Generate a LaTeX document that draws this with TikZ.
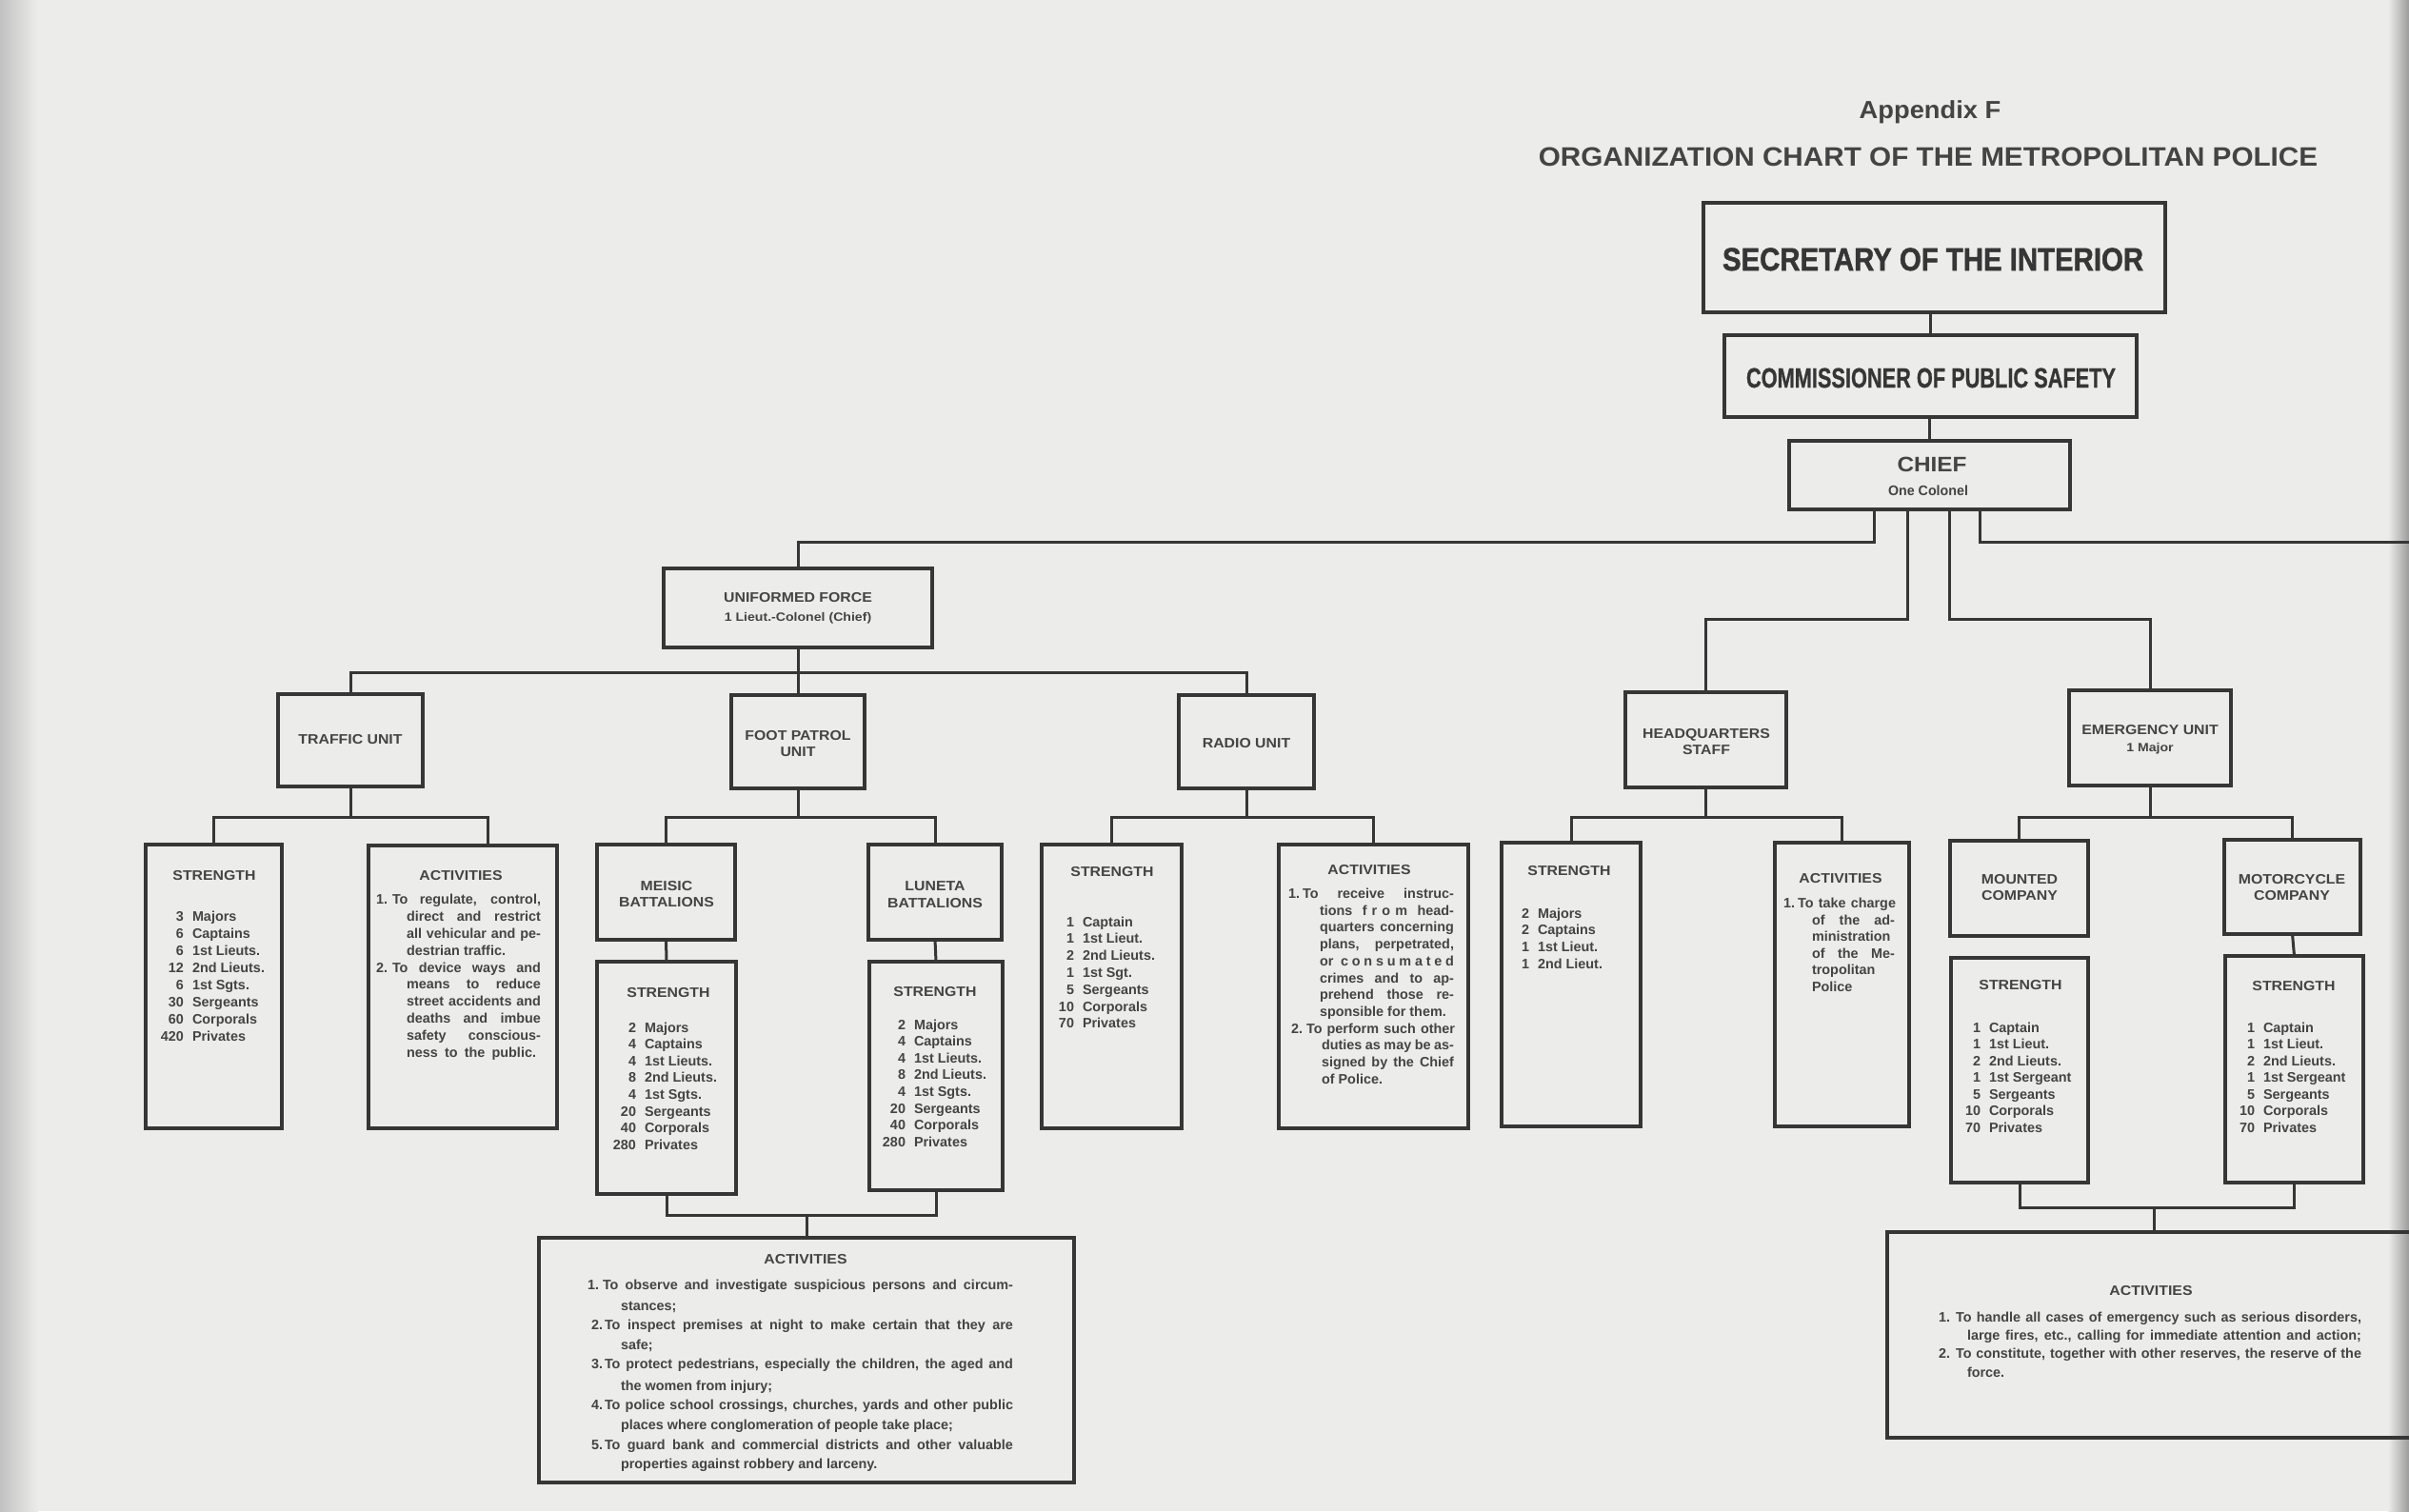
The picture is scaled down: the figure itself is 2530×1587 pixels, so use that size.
\documentclass[tikz,border=0pt]{standalone}
\usepackage{fontspec}
\setmainfont{Liberation Sans}
\usepackage{graphicx}
\definecolor{paper}{HTML}{ECECEA}
\definecolor{inkc}{HTML}{363636}
\definecolor{txtc}{HTML}{444444}
\definecolor{edgec}{HTML}{C2C2C2}
\tikzset{
  bx/.style={draw=inkc, line width=1.7pt, inner sep=0pt, outer sep=0pt, rectangle},
  ln/.style={draw=inkc, line width=1.5pt},
  tx/.style={inner sep=0pt, outer sep=0pt, text=txtc, font=\fontsize{7.2}{8}\selectfont\bfseries},
  ts/.style={inner sep=0pt, outer sep=0pt, text=txtc, font=\fontsize{6.3}{7}\selectfont\bfseries}
}
\newcounter{tl}
\newcommand\Bx[5]{\node[bx, minimum width={(#4-#2)/2}, minimum height={(#5-#3)/2}] (#1) at ({(#2+#4)/2},{(#3+#5)/2}) {};}
\newcommand\Tl[3]{\stepcounter{tl}\node[tx,anchor=base west] (t\arabic{tl}) at (#1,#2) {#3};}
\newcommand\Tr[3]{\stepcounter{tl}\node[tx,anchor=base east] (t\arabic{tl}) at (#1,#2) {#3};}
\newcommand\Th[3]{\stepcounter{tl}\node[tx,anchor=base] (t\arabic{tl}) at (#1,#2) {\scalebox{1.1}[1]{#3}};}
\newcommand\Ts[3]{\stepcounter{tl}\node[ts,anchor=base] (t\arabic{tl}) at (#1,#2) {\scalebox{1.12}[1]{#3}};}
\newcommand\Tj[4]{\stepcounter{tl}\node[tx,anchor=base west] (t\arabic{tl}) at (#1,#3) {\makebox[\dimexpr(#2pt-#1pt)/2\relax][s]{#4}};}
\newcommand\Sl[4]{\foreach \nn/\ww [count=\ii from 0] in {#4}{\Tr{#1}{#2+\ii*#3}{\nn}\Tl{#1+9}{#2+\ii*#3}{\ww}}}
\begin{document}
\begin{tikzpicture}[x=0.5pt,y=-0.5pt]
\useasboundingbox (0,0) rectangle (2530,1587);
\clip (0,0) rectangle (2530,1587);
\fill[paper] (0,0) rectangle (2530,1587);
\shade[left color=edgec, right color=paper] (0,0) rectangle (40,1587);
\shade[left color=paper, right color=edgec!80!black] (2508,0) rectangle (2530,1587);

% ---------- boxes ----------
\Bx{sec}{1789}{213}{2274}{328}
\Bx{com}{1811}{352}{2244}{438}
\Bx{chief}{1879}{463}{2174}{535}
\Bx{uf}{697}{597}{979}{680}
\Bx{traffic}{292}{729}{444}{826}
\Bx{foot}{768}{730}{908}{828}
\Bx{radio}{1238}{730}{1380}{828}
\Bx{hq}{1707}{727}{1876}{827}
\Bx{em}{2173}{725}{2343}{825}
\Bx{tstr}{153}{887}{296}{1185}
\Bx{tact}{387}{888}{585}{1185}
\Bx{mei}{627}{887}{772}{987}
\Bx{lun}{912}{887}{1052}{987}
\Bx{meis}{627}{1010}{773}{1254}
\Bx{luns}{913}{1010}{1053}{1250}
\Bx{fact}{566}{1300}{1128}{1557}
\Bx{rstr}{1094}{887}{1241}{1185}
\Bx{ract}{1343}{887}{1542}{1185}
\Bx{hstr}{1577}{885}{1723}{1183}
\Bx{hact}{1864}{885}{2005}{1183}
\Bx{mnt}{2048}{883}{2193}{983}
\Bx{moto}{2336}{882}{2479}{981}
\Bx{mnts}{2049}{1006}{2193}{1242}
\Bx{motos}{2337}{1004}{2482}{1242}
\Bx{eact}{1982}{1294}{2560}{1510}

% ---------- connectors ----------
\draw[ln] (sec.south -| com.north) -- (com.north);
\draw[ln] (com.south -| chief.north) -- (chief.north);
\coordinate (j1) at (1968,569);
\coordinate (j2) at (2003,650);
\coordinate (j3) at (2047,650);
\coordinate (j4) at (2079,569);
\coordinate (edgeR) at (2545,569);
\draw[ln] (chief.south -| j1) -- (j1) -| (uf.north);
\draw[ln] (chief.south -| j2) -- (j2) -| (hq.north);
\draw[ln] (chief.south -| j3) -- (j3) -| (em.north);
\draw[ln] (chief.south -| j4) -- (j4) -- (edgeR);

\coordinate (ub) at (838,706);
\draw[ln] (uf.south) -- (foot.north);
\draw[ln] (traffic.north) |- (ub) -| (radio.north);

\coordinate (tb) at (368,858);
\draw[ln] (traffic.south) -- (tb);
\draw[ln] (tstr.north) |- (tb) -| ([xshift=13pt]tact.north);

\coordinate (fb) at (838,858);
\draw[ln] (foot.south) -- (fb);
\draw[ln] (mei.north) |- (fb) -| (lun.north);
\draw[ln] (mei.south) -- (meis.north);
\draw[ln] (lun.south) -- (luns.north);
\coordinate (fb2) at (847,1276);
\draw[ln] (meis.south) |- (fb2) -| (luns.south);
\draw[ln] (fb2) -- (fact.north);

\coordinate (rb) at (1309,858);
\draw[ln] (radio.south) -- (rb);
\draw[ln] (rstr.north) |- (rb) -| (ract.north);

\coordinate (hb) at (1791.5,858);
\draw[ln] (hq.south) -- (hb);
\draw[ln] (hstr.north) |- (hb) -| (hact.north);

\coordinate (eb) at (2258,858);
\draw[ln] (em.south) -- (eb);
\draw[ln] (mnt.north) |- (eb) -| (moto.north);
\draw[ln] (moto.south) -- (motos.north);
\coordinate (eb2) at (2262,1268);
\draw[ln] (mnts.south) |- (eb2) -| (motos.south);
\draw[ln] (eb2) -- (eb2 |- eact.north);

% ---------- titles ----------
\node[tx, anchor=base, font=\fontsize{13}{15}\selectfont\bfseries] (ttlA) at (2027,124) {\scalebox{1.05}[1]{Appendix F}};
\node[tx, anchor=base, font=\fontsize{14}{16}\selectfont\bfseries] (ttlB) at (2025,174) {\scalebox{1.06}[1]{ORGANIZATION CHART OF THE METROPOLITAN POLICE}};
\node[tx, anchor=base, text=inkc] (secT) at (2030,284) {\resizebox{221pt}{11.8pt}{\bfseries\addfontfeature{FakeBold=1.5}SECRETARY OF THE INTERIOR}};
\node[tx, anchor=base, text=inkc] (comT) at (2028,407) {\resizebox{194pt}{10.2pt}{\bfseries\addfontfeature{FakeBold=1}COMMISSIONER OF PUBLIC SAFETY}};
\node[tx, anchor=base] (chT) at (2029,495) {\resizebox{36.5pt}{7.7pt}{\bfseries CHIEF}};
\node[tx, anchor=base] (chS) at (2025,520) {\resizebox{42pt}{5.3pt}{\bfseries One Colonel}};

% ---------- unit headings ----------
\Th{838}{632}{UNIFORMED FORCE}
\Ts{838}{652}{1 Lieut.-Colonel (Chief)}
\Th{368}{781}{TRAFFIC UNIT}
\Th{838}{777}{FOOT PATROL}
\Th{838}{794}{UNIT}
\Th{1309}{785}{RADIO UNIT}
\Th{1792}{775}{HEADQUARTERS}
\Th{1792}{792}{STAFF}
\Th{2258}{771}{EMERGENCY UNIT}
\Ts{2258}{789}{1 Major}
\Th{700}{935}{MEISIC}
\Th{700}{952}{BATTALIONS}
\Th{982}{935}{LUNETA}
\Th{982}{953}{BATTALIONS}
\Th{2121}{928}{MOUNTED}
\Th{2121}{945}{COMPANY}
\Th{2407}{928}{MOTORCYCLE}
\Th{2407}{945}{COMPANY}

% ---------- strength ----------
\Th{225}{924}{STRENGTH}
\Th{702}{1047}{STRENGTH}
\Th{982}{1046}{STRENGTH}
\Th{1168}{920}{STRENGTH}
\Th{1648}{919}{STRENGTH}
\Th{2122}{1039}{STRENGTH}
\Th{2409}{1040}{STRENGTH}
\Sl{193}{967}{18}{3/Majors,6/Captains,6/1st Lieuts.,12/2nd Lieuts.,6/1st Sgts.,30/Sergeants,60/Corporals,420/Privates}
\Sl{668}{1084}{17.6}{2/Majors,4/Captains,4/1st Lieuts.,8/2nd Lieuts.,4/1st Sgts.,20/Sergeants,40/Corporals,280/Privates}
\Sl{951}{1081}{17.6}{2/Majors,4/Captains,4/1st Lieuts.,8/2nd Lieuts.,4/1st Sgts.,20/Sergeants,40/Corporals,280/Privates}
\Sl{1128}{973}{17.8}{1/Captain,1/1st Lieut.,2/2nd Lieuts.,1/1st Sgt.,5/Sergeants,10/Corporals,70/Privates}
\Sl{1606}{964}{17.7}{2/Majors,2/Captains,1/1st Lieut.,1/2nd Lieut.}
\Sl{2080}{1084}{17.5}{1/Captain,1/1st Lieut.,2/2nd Lieuts.,1/1st Sergeant,5/Sergeants,10/Corporals,70/Privates}
\Sl{2368}{1084}{17.5}{1/Captain,1/1st Lieut.,2/2nd Lieuts.,1/1st Sergeant,5/Sergeants,10/Corporals,70/Privates}

% ---------- activities ----------
\Th{484}{924}{ACTIVITIES}
\Th{1438}{918}{ACTIVITIES}
\Th{1933}{927}{ACTIVITIES}
\Th{846}{1327}{ACTIVITIES}
\Th{2259}{1360}{ACTIVITIES}

% traffic
\Tl{395}{949}{1.}\Tj{412}{568}{949}{To regulate, control,}
\Tj{427}{568}{967}{direct and restrict}
\Tj{427}{568}{985}{all vehicular and pe-}
\Tl{427}{1003}{destrian traffic.}
\Tl{395}{1021}{2.}\Tj{412}{568}{1021}{To device ways and}
\Tj{427}{568}{1038}{means to reduce}
\Tj{427}{568}{1056}{street accidents and}
\Tj{427}{568}{1074}{deaths and imbue}
\Tj{427}{568}{1092}{safety conscious-}
\Tj{427}{563}{1110}{ness to the public.}

% radio
\Tl{1353}{943}{1.}\Tj{1368}{1527}{943}{To receive instruc-}
\Tj{1386}{1527}{961}{tions\hfil\hfil f\hfil r\hfil o\hfil m\hfil\hfil head-}
\Tj{1386}{1527}{978}{quarters concerning}
\Tj{1386}{1527}{996}{plans, perpetrated,}
\Tj{1386}{1527}{1014}{or\hfil\hfil c\hfil o\hfil n\hfil s\hfil u\hfil m\hfil a\hfil t\hfil e\hfil d}
\Tj{1386}{1527}{1032}{crimes and to ap-}
\Tj{1386}{1527}{1049}{prehend those re-}
\Tl{1386}{1067}{sponsible for them.}
\Tl{1356}{1085}{2.}\Tj{1372}{1528}{1085}{To perform such other}
\Tj{1388}{1527}{1102}{duties as may be as-}
\Tj{1388}{1527}{1120}{signed by the Chief}
\Tl{1388}{1138}{of Police.}

% headquarters
\Tl{1873}{953}{1.}\Tj{1888}{1991}{953}{To take charge}
\Tj{1903}{1990}{971}{of the ad-}
\Tl{1903}{988}{ministration}
\Tj{1903}{1990}{1006}{of the Me-}
\Tl{1903}{1023}{tropolitan}
\Tl{1903}{1041}{Police}

% foot patrol
\Tl{617}{1354}{1.}\Tj{633}{1064}{1354}{To observe and investigate suspicious persons and circum-}
\Tl{652}{1376}{stances;}
\Tl{621}{1396}{2.}\Tj{635}{1064}{1396}{To inspect premises at night to make certain that they are}
\Tl{652}{1417}{safe;}
\Tl{621}{1437}{3.}\Tj{635}{1064}{1437}{To protect pedestrians, especially the children, the aged and}
\Tl{652}{1460}{the women from injury;}
\Tl{621}{1480}{4.}\Tj{635}{1064}{1480}{To police school crossings, churches, yards and other public}
\Tl{652}{1501}{places where conglomeration of people take place;}
\Tl{621}{1522}{5.}\Tj{635}{1064}{1522}{To guard bank and commercial districts and other valuable}
\Tl{652}{1542}{properties against robbery and larceny.}

% emergency
\Tl{2036}{1388}{1.}\Tj{2054}{2480}{1388}{To handle all cases of emergency such as serious disorders,}
\Tj{2066}{2480}{1407}{large fires, etc., calling for immediate attention and action;}
\Tl{2036}{1426}{2.}\Tj{2054}{2480}{1426}{To constitute, together with other reserves, the reserve of the}
\Tl{2066}{1446}{force.}
\end{tikzpicture}
\end{document}
